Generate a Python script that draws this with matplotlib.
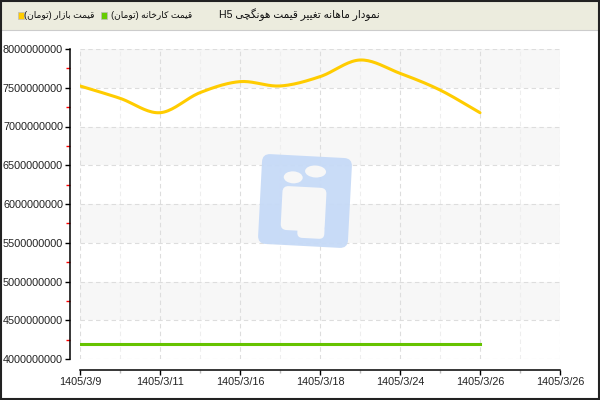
import numpy as np
import matplotlib.pyplot as plt
import matplotlib.transforms as mtrans
from matplotlib.patches import Rectangle, FancyBboxPatch, Ellipse
from matplotlib.ticker import MultipleLocator, FixedLocator

# data (one point every half tick)
date_labels = ['1405/3/9', '1405/3/11', '1405/3/16', '1405/3/18',
               '1405/3/24', '1405/3/26', '1405/3/26']
market_price = [7.523e9, 7.364e9, 7.178e9, 7.437e9, 7.579e9, 7.523e9,
                7.643e9, 7.858e9, 7.686e9, 7.471e9, 7.178e9]
factory_price = [4.2e9] * 11

title_text = 'نمودار ماهانه تغییر قیمت هونگچی H5'
market_label = 'قیمت بازار (تومان)'
factory_label = 'قیمت کارخانه (تومان)'

# --- tiny persian shaping, matplotlib has no complex text layout ---
FORMS = {  # isolated, final, initial, medial
    'ا': ('\uFE8D', '\uFE8E', None, None),
    'ب': ('\uFE8F', '\uFE90', '\uFE91', '\uFE92'),
    'ت': ('\uFE95', '\uFE96', '\uFE97', '\uFE98'),
    'خ': ('\uFEA5', '\uFEA6', '\uFEA7', '\uFEA8'),
    'د': ('\uFEA9', '\uFEAA', None, None),
    'ر': ('\uFEAD', '\uFEAE', None, None),
    'ز': ('\uFEAF', '\uFEB0', None, None),
    'غ': ('\uFECD', '\uFECE', '\uFECF', '\uFED0'),
    'ق': ('\uFED5', '\uFED6', '\uFED7', '\uFED8'),
    'م': ('\uFEE1', '\uFEE2', '\uFEE3', '\uFEE4'),
    'ن': ('\uFEE5', '\uFEE6', '\uFEE7', '\uFEE8'),
    'ه': ('\uFEE9', '\uFEEA', '\uFEEB', '\uFEEC'),
    'و': ('\uFEED', '\uFEEE', None, None),
    'ی': ('\uFBFC', '\uFBFD', '\uFBFE', '\uFBFF'),
    'ک': ('\uFB8E', '\uFB8F', '\uFB90', '\uFB91'),
    'گ': ('\uFB92', '\uFB93', '\uFB94', '\uFB95'),
    'چ': ('\uFB7A', '\uFB7B', '\uFB7C', '\uFB7D'),
}


def rtl(s):
    out = []
    for i, c in enumerate(s):
        if c not in FORMS:
            out.append(c)
            continue
        prev = s[i - 1] if i > 0 else ''
        nxt = s[i + 1] if i < len(s) - 1 else ''
        join_prev = prev in FORMS and FORMS[prev][2] is not None
        join_next = FORMS[c][2] is not None and nxt in FORMS
        iso, fin, ini, med = FORMS[c]
        if join_prev and join_next:
            out.append(med)
        elif join_prev:
            out.append(fin)
        elif join_next:
            out.append(ini)
        else:
            out.append(iso)
    vis = ''.join(out)[::-1]
    vis = vis.translate(str.maketrans('()', ')('))
    # put latin/digit runs back in reading order
    res, run = '', ''
    for c in vis:
        if c.isascii() and c.isalnum():
            run += c
        else:
            res += run[::-1] + c
            run = ''
    return res + run[::-1]


def smooth(y, n=20):
    # catmull-rom through the points, just for drawing
    y = np.asarray(y, float)
    p = np.concatenate([[2 * y[0] - y[1]], y, [2 * y[-1] - y[-2]]])
    xs, ys = [], []
    for i in range(len(y) - 1):
        p0, p1, p2, p3 = p[i], p[i + 1], p[i + 2], p[i + 3]
        t = np.linspace(0, 1, n, endpoint=False)
        ys.append(0.5 * (2 * p1 + (-p0 + p2) * t + (2 * p0 - 5 * p1 + 4 * p2 - p3) * t**2
                         + (-p0 + 3 * p1 - 3 * p2 + p3) * t**3))
        xs.append(i + t)
    xs.append([len(y) - 1])
    ys.append([y[-1]])
    return np.concatenate(xs), np.concatenate(ys)


# latin/digits from Liberation, arabic glyphs fall back to DejaVu
plt.rcParams['font.family'] = ['Liberation Sans', 'DejaVu Sans']
PX = 72 / 100  # one pixel in points

fig = plt.figure(figsize=(6, 4), dpi=100)
fig.patch.set_facecolor('white')

# header strip
fig.patches.append(Rectangle((0, 370 / 400), 1, 30 / 400, transform=fig.transFigure,
                             facecolor='#ECECDE', edgecolor='none', zorder=0))
fig.patches.append(Rectangle((0.001, 0.002), 0.997, 0.996, transform=fig.transFigure,
                             facecolor='none', edgecolor='#222222', lw=1.5, zorder=5))
fig.lines.append(plt.Line2D([0, 1], [370 / 400, 370 / 400], transform=fig.transFigure,
                            color='#cccccc', lw=0.8))

fig.text(380 / 600, 385 / 400, rtl(title_text), ha='right', va='center', fontsize=7.6, color='#111111')
fig.text(192 / 600, 385 / 400, rtl(factory_label), ha='right', va='center', fontsize=6.6, color='#111111')
fig.text(95 / 600, 385 / 400, rtl(market_label), ha='right', va='center', fontsize=6.6, color='#111111')
fig.patches.append(Rectangle((101 / 600, 381 / 400), 6 / 600, 7 / 400, transform=fig.transFigure,
                             facecolor='#66CC00', edgecolor='#bbbbbb', lw=0.5))
fig.patches.append(Rectangle((18 / 600, 381 / 400), 6 / 600, 7 / 400, transform=fig.transFigure,
                             facecolor='#FFCC00', edgecolor='#bbbbbb', lw=0.5))

ax = fig.add_axes([80 / 600, 41 / 400, 480 / 600, 310 / 400])
ax.set_xlim(0, 12)
ax.set_ylim(4e9, 8e9)

# alternating bands
for lo in np.arange(4.5e9, 8e9, 1e9):
    ax.axhspan(lo, lo + 5e8, color='#F7F7F7', zorder=0, lw=0)

xs, ys = smooth(market_price)
ax.plot(xs, ys, color='#FFCC00', lw=2.2, solid_capstyle='round', zorder=3)
ax.plot(range(len(factory_price)), factory_price, color='#66C300', lw=2.2, zorder=3)

ax.yaxis.set_major_locator(MultipleLocator(5e8))
ax.yaxis.set_minor_locator(FixedLocator(np.arange(4.25e9, 8e9, 5e8)))
ax.yaxis.set_major_formatter(plt.FuncFormatter(lambda v, p: '%d' % v))
ax.xaxis.set_major_locator(FixedLocator(range(0, 13, 2)))
ax.xaxis.set_minor_locator(FixedLocator(range(1, 13, 2)))
ax.set_xticklabels(date_labels)

ax.grid(which='major', color='#dddddd', ls=(0, (4, 3)), lw=0.8)
ax.grid(which='minor', axis='x', color='#eeeeee', ls=(0, (4, 3)), lw=0.8)
ax.set_axisbelow(True)

for s in ['top', 'right']:
    ax.spines[s].set_visible(False)
ax.spines['left'].set_position(('outward', 10 * PX))
ax.spines['bottom'].set_position(('outward', 11 * PX))
ax.spines['left'].set_linewidth(1.1)
ax.spines['bottom'].set_linewidth(1.1)

ax.tick_params(which='major', length=5 * PX, width=1, color='black', labelsize=7.8,
               labelcolor='#222222', pad=2 * PX)
ax.tick_params(axis='y', which='minor', length=4 * PX, width=1, color='red')
ax.tick_params(axis='x', which='minor', length=3 * PX, width=1, color='#bbbbbb')

# watermark logo, drawn in pixel space (origin bottom-left), slightly tilted
rot = mtrans.Affine2D().rotate_deg_around(305, 199, -3) + mtrans.IdentityTransform()
fig.patches.append(FancyBboxPatch((262, 156), 86, 86, boxstyle='round,pad=2,rounding_size=8',
                                  transform=rot, facecolor='#C6DAF7', edgecolor='none',
                                  alpha=0.95, zorder=4))
for (cx, cy, w, h) in [(292, 222, 19, 12), (314, 229, 21, 12)]:
    fig.patches.append(Ellipse((cx, cy), w, h, transform=rot,
                               facecolor='#F7F7F7', edgecolor='none', zorder=5))
fig.patches.append(FancyBboxPatch((283, 170), 42, 42, boxstyle='round,pad=1,rounding_size=6',
                                  transform=rot, facecolor='#F7F7F7', edgecolor='none', zorder=5))
fig.patches.append(FancyBboxPatch((300, 163), 25, 12, boxstyle='round,pad=1,rounding_size=5',
                                  transform=rot, facecolor='#F7F7F7', edgecolor='none', zorder=5))

fig.savefig('out.png', dpi=100)
